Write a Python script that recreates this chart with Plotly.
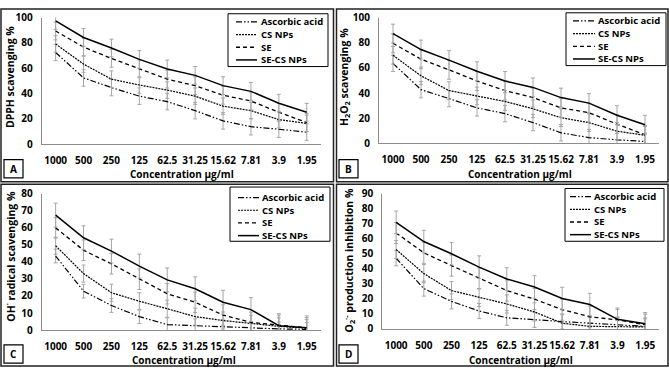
import plotly.graph_objects as go

W, H = 669, 375

# ---------------- data ----------------
concentrations = ["1000", "500", "250", "125", "62.5", "31.25", "15.62", "7.81", "3.9", "1.95"]
series_names = ["Ascorbic acid", "CS NPs", "SE", "SE-CS NPs"]

# Panel A: DPPH scavenging %
dpph_ascorbic = [72.5, 52.4, 44.8, 38.0, 33.7, 26.6, 18.5, 13.9, 11.9, 9.6]
dpph_cs = [79.2, 63.3, 51.4, 46.8, 42.8, 38.0, 30.1, 26.6, 19.5, 16.5]
dpph_se = [89.4, 76.7, 67.8, 59.5, 51.4, 46.3, 38.7, 34.2, 25.3, 17.2]
dpph_secs = [97.5, 84.3, 76.0, 67.0, 59.5, 54.4, 46.3, 41.8, 32.4, 25.3]
dpph_err = [[6.5] * 10, [6.5] * 10, [7.0] * 10, [7.0] * 10]

# Panel B: H2O2 scavenging %
h2o2_ascorbic = [63.6, 42.7, 35.6, 28.2, 23.7, 16.5, 8.4, 4.6, 2.8, 1.5]
h2o2_cs = [70.0, 53.7, 42.0, 37.7, 33.3, 27.5, 20.4, 16.5, 9.7, 6.4]
h2o2_se = [79.6, 66.9, 58.5, 49.6, 42.0, 36.4, 28.2, 24.4, 15.3, 6.8]
h2o2_secs = [87.3, 74.6, 66.2, 57.3, 49.6, 44.5, 36.4, 32.0, 22.4, 14.8]
h2o2_err = [[6.5] * 10, [7.0] * 10, [7.5] * 10, [7.5] * 10]

# Panel C: OH radical scavenging %
oh_ascorbic = [43.4, 22.8, 14.4, 7.9, 3.2, 2.6, 1.9, 1.1, 0.7, 0.4]
oh_cs = [49.4, 33.1, 21.9, 16.9, 12.5, 7.9, 5.6, 3.7, 2.2, 1.1]
oh_se = [59.9, 46.8, 38.8, 29.8, 21.3, 16.3, 8.8, 4.5, 2.8, 1.3]
oh_secs = [67.4, 54.1, 46.3, 37.5, 29.4, 24.2, 16.3, 12.0, 2.6, 1.3]
oh_err = [[4.0] * 10, [5.0] * 10, [6.0] * 10, [7.0] * 10]

# Panel D: O2- production inhibition %
o2_ascorbic = [47.0, 26.8, 18.3, 11.9, 7.4, 6.0, 4.9, 3.8, 2.8, 1.7]
o2_cs = [52.8, 36.8, 25.5, 20.9, 16.6, 11.3, 3.8, 1.7, 1.7, 1.3]
o2_se = [63.8, 50.6, 42.1, 33.6, 25.5, 19.8, 12.8, 8.1, 6.0, 2.8]
o2_secs = [70.9, 58.1, 50.0, 41.1, 33.2, 27.9, 20.2, 16.2, 6.4, 3.4]
o2_err = [[5.0] * 10, [6.0] * 10, [7.0] * 10, [7.5] * 10]

y_titles = ["DPPH scavenging %",
            "H<sub>2</sub>O<sub>2</sub> scavenging %",
            "OH<sup>·</sup> radical scavenging %",
            "O<sub>2</sub><sup>·-</sup> production inhibition %"]
x_title = "Concentration µg/ml"
panel_letters = ["A", "B", "C", "D"]
y_max = [100, 100, 80, 90]
y_step = [20, 20, 10, 10]

# ---------------- styles ----------------
FONT = "Open Sans"
FS = 10
dashes = ["6px,2px,1.5px,2px,1.5px,2px", "2px,1px", "4px,3px", "solid"]
line_w = [1.2, 1.2, 1.3, 1.5]
ERR_COLOR = "#a6a6a6"
AXIS_COLOR = "#8c8c8c"


def px(x):
    return x / W


def py(y):
    return 1 - y / H


def bold_font(size=FS):
    return dict(family=FONT, size=size, color="black", weight="bold")


panel_data = [
    ([dpph_ascorbic, dpph_cs, dpph_se, dpph_secs], dpph_err),
    ([h2o2_ascorbic, h2o2_cs, h2o2_se, h2o2_secs], h2o2_err),
    ([oh_ascorbic, oh_cs, oh_se, oh_secs], oh_err),
    ([o2_ascorbic, o2_cs, o2_se, o2_secs], o2_err),
]

# geometry in pixels
plot_boxes = [(41.7, 10, 320.7, 142), (379, 10, 659, 141),
              (41.7, 193.3, 320.7, 335.5), (382.3, 193.3, 659, 334.3)]
borders = [(1, 1, 333.5, 181), (336.5, 1, 668, 181),
           (1, 183.5, 333.5, 373), (336.5, 183.5, 668, 373)]
legend_boxes = [(228, 6, 328, 61), (566, 5, 666, 60),
                (230, 186.5, 330, 243), (565, 188, 664, 243)]
legend_text_x = [260, 597, 261, 593]
legend_rows = [[14.5, 27.7, 40.9, 54.1], [13.5, 26.7, 39.9, 53.1],
               [197.5, 210.7, 223.9, 237.1], [196.5, 209.7, 222.9, 236.1]]
legend_sample = [(236, 257), (573, 595), (238, 259), (570, 591)]
ytitle_pos = [(10, 72), (344, 72), (10, 259), (349, 263)]
xtitle_pos = [(181.5, 173), (520, 173), (184, 366.5), (521, 366.5)]
letter_boxes = [(4, 158, 23, 177), (339, 158, 358, 177),
                (4, 351, 23, 370), (339, 351, 358, 370)]

fig = go.Figure()
shapes = []
annotations = []

for p in range(4):
    ax_id = "" if p == 0 else str(p + 1)
    series, errs = panel_data[p]
    for s in range(4):
        fig.add_trace(go.Scatter(
            x=concentrations, y=series[s], name=series_names[s],
            mode="lines", showlegend=False,
            line=dict(color="black", width=line_w[s], dash=dashes[s]),
            error_y=dict(type="data", array=errs[s], visible=True,
                         color=ERR_COLOR, thickness=1, width=2),
            xaxis="x" + ax_id, yaxis="y" + ax_id,
        ))
    x0, y0, x1, y1 = plot_boxes[p]
    fig.layout["xaxis" + ax_id] = dict(
        domain=[px(x0), px(x1)], anchor="y" + ax_id, type="category",
        showline=True, linecolor=AXIS_COLOR, linewidth=1, showgrid=False,
        zeroline=False, ticks="", ticklabelstandoff=7, tickangle=0,
        tickfont=bold_font(),
    )
    fig.layout["yaxis" + ax_id] = dict(
        domain=[py(y1), py(y0)], anchor="x" + ax_id,
        range=[0, y_max[p]], dtick=y_step[p], tick0=0,
        showline=True, linecolor=AXIS_COLOR, linewidth=1, showgrid=False,
        zeroline=False, ticks="", ticklabelstandoff=6,
        tickfont=bold_font(),
    )
    # panel border
    bx0, by0, bx1, by1 = borders[p]
    shapes.append(dict(type="rect", xref="paper", yref="paper",
                       x0=px(bx0), x1=px(bx1), y0=py(by1), y1=py(by0),
                       line=dict(color="#222222", width=1.5)))
    # legend box
    lx0, ly0, lx1, ly1 = legend_boxes[p]
    shapes.append(dict(type="rect", xref="paper", yref="paper",
                       x0=px(lx0), x1=px(lx1), y0=py(ly1), y1=py(ly0),
                       line=dict(color="black", width=1), fillcolor="white"))
    sx0, sx1 = legend_sample[p]
    for s in range(4):
        ry = legend_rows[p][s]
        shapes.append(dict(type="line", xref="paper", yref="paper",
                           x0=px(sx0), x1=px(sx1), y0=py(ry), y1=py(ry),
                           line=dict(color="black", width=line_w[s], dash=dashes[s])))
        annotations.append(dict(text=series_names[s], xref="paper", yref="paper",
                                x=px(legend_text_x[p]), y=py(ry), xanchor="left",
                                yanchor="middle", showarrow=False, borderpad=0,
                                font=bold_font(9.5)))
    # titles
    tx, ty = ytitle_pos[p]
    annotations.append(dict(text=y_titles[p], xref="paper", yref="paper",
                            x=px(tx), y=py(ty), xanchor="center", yanchor="middle",
                            textangle=-90, showarrow=False, borderpad=0,
                            font=bold_font(10.5)))
    tx, ty = xtitle_pos[p]
    annotations.append(dict(text=x_title, xref="paper", yref="paper",
                            x=px(tx), y=py(ty), xanchor="center", yanchor="middle",
                            showarrow=False, borderpad=0, font=bold_font()))
    # panel letter box
    kx0, ky0, kx1, ky1 = letter_boxes[p]
    shapes.append(dict(type="rect", xref="paper", yref="paper",
                       x0=px(kx0), x1=px(kx1), y0=py(ky1), y1=py(ky0),
                       line=dict(color="black", width=1.2)))
    annotations.append(dict(text=panel_letters[p], xref="paper", yref="paper",
                            x=px((kx0 + kx1) / 2), y=py((ky0 + ky1) / 2),
                            xanchor="center", yanchor="middle", showarrow=False,
                            borderpad=0, font=bold_font()))

fig.update_layout(
    width=W, height=H, margin=dict(l=0, r=0, t=0, b=0),
    paper_bgcolor="white", plot_bgcolor="white",
    shapes=shapes, annotations=annotations, showlegend=False,
)

fig.write_html("out.html", config={"displayModeBar": False},
               post_script="document.body.style.margin='0';document.body.style.overflow='hidden';")
